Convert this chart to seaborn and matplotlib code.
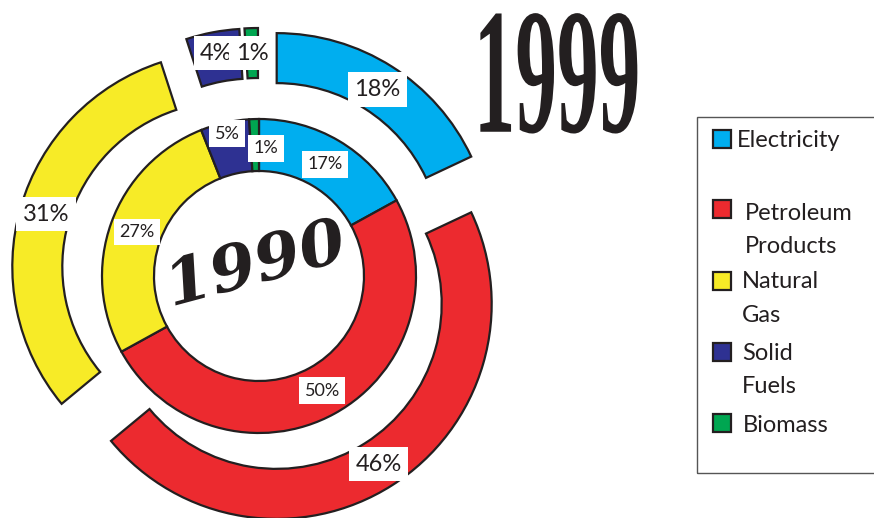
import numpy as np
import matplotlib
matplotlib.use("Agg")
import matplotlib.pyplot as plt
import matplotlib.patheffects as pe
from matplotlib.patches import Rectangle
from matplotlib.transforms import Affine2D
import seaborn as sns

# Energy consumption shares by source (%)
sources = ["Electricity", "Petroleum Products", "Natural Gas", "Solid Fuels", "Biomass"]
legend_lines = [["Electricity"], ["Petroleum", "Products"], ["Natural", "Gas"],
                ["Solid", "Fuels"], ["Biomass"]]
share_1990 = [17, 50, 27, 5, 1]
share_1999 = [18, 46, 31, 4, 1]
colors = ["#00aeef", "#ec2a2f", "#f7eb27", "#2e3192", "#00a651"]

INK = "#231f20"

sns.set_theme(style="white")
plt.rcParams["font.family"] = ["Lato", "DejaVu Sans"]


class Stretch(pe.AbstractPathEffect):
    """Scale a text path about its own centre."""

    def __init__(self, sx=1.0, sy=1.0):
        super().__init__()
        self.sx = sx
        self.sy = sy

    def draw_path(self, renderer, gc, tpath, affine, rgbFace=None):
        ext = tpath.get_extents()
        mx = 0.5 * (ext.x0 + ext.x1)
        my = 0.5 * (ext.y0 + ext.y1)
        pre = (Affine2D().translate(-mx, -my)
               .scale(self.sx, self.sy).translate(mx, my))
        renderer.draw_path(gc, tpath, pre + affine, rgbFace)


W, H = 874, 518
fig = plt.figure(figsize=(W / 100, H / 100), dpi=100)
ax = fig.add_axes([0, 0, 1, 1])

center = (259, H - 276)
edge = dict(edgecolor=INK, linewidth=1.6)

# inner ring: 1990
w_in, _, t_in = ax.pie(share_1990, colors=colors, radius=157, center=center,
                       startangle=90, counterclock=False, autopct="%.0f%%",
                       wedgeprops=dict(width=52, **edge),
                       textprops=dict(fontsize=13, color=INK), frame=True)
# outer ring: 1999, every slice pulled outwards
w_out, _, t_out = ax.pie(share_1999, colors=colors, radius=215, center=center,
                         startangle=90, counterclock=False, autopct="%.0f%%",
                         explode=[33] * len(share_1999),
                         wedgeprops=dict(width=50, **edge),
                         textprops=dict(fontsize=17, color=INK), frame=True)


def place_labels(texts, wedges, radii, shifts, pad):
    for t, w, r, s in zip(texts, wedges, radii, shifts):
        th = np.deg2rad(0.5 * (w.theta1 + w.theta2) + s)
        t.set_position((w.center[0] + r * np.cos(th), w.center[1] + r * np.sin(th)))
        t.set_bbox(dict(boxstyle=f"square,pad={pad}", fc="white", ec="none"))


place_labels(t_in, w_in, [130, 131, 130, 146, 128], [0, 0, 0, 0, -4.9], 0.3)
place_labels(t_out, w_out, [188, 190, 189, 194, 190], [0, 0, 0, 0, 0], 0.28)

ax.text(256, H - 266, "1990", fontfamily="DejaVu Serif", fontweight="bold",
        fontstyle="italic", fontsize=45, rotation=15, rotation_mode="anchor",
        ha="center", va="center", color=INK, path_effects=[Stretch(1.06, 1.0)])
ax.text(557, H - 81, "1999", fontfamily="Liberation Serif", fontweight="bold",
        fontsize=60, ha="center", va="center", color=INK,
        path_effects=[Stretch(1.0, 2.15)])

# legend box
ax.add_patch(Rectangle((697, H - 473), 200, 356, fill=False, ec="#555555",
                       lw=1.0, clip_on=False))
square_y = [138.5, 209, 280.5, 352, 423]
text_x = [737, 745, 742, 742, 743]
baselines = [[147], [220.5, 253], [288, 322], [360, 393], [432]]
for col, sy, tx, lines, bls in zip(colors, square_y, text_x, legend_lines, baselines):
    ax.add_patch(Rectangle((713, H - sy - 9), 18, 18, fc=col, ec=INK, lw=1.6))
    for line, bl in zip(lines, bls):
        ax.text(tx, H - bl, line, fontsize=17, color=INK, ha="left", va="baseline")

ax.set_xlim(0, W)
ax.set_ylim(0, H)
ax.axis("off")

fig.savefig("out.png", dpi=100, facecolor="white")
